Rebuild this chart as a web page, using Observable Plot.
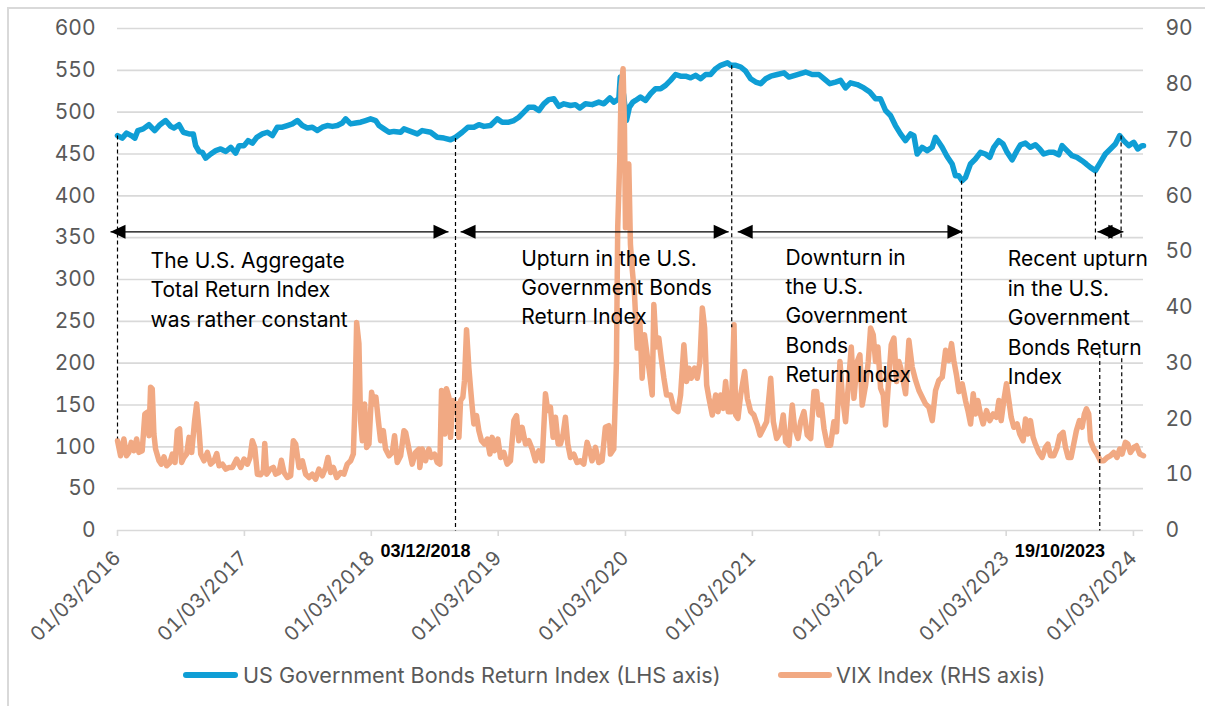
<!DOCTYPE html>
<html><head><meta charset="utf-8">
<script src="https://cdn.jsdelivr.net/npm/d3@7"></script>
<script src="https://cdn.jsdelivr.net/npm/@observablehq/plot@0.6"></script>
<style>
body{margin:0;background:#fff;}
#wrap{position:relative;width:1205px;height:706px;overflow:hidden;background:#fff;font-family:Inter,"Liberation Sans",Arial,sans-serif;}
#chart{position:absolute;left:0;top:0;}
#frame{position:absolute;left:7px;top:7px;width:1300px;height:800px;border-left:2px solid #d9d9d9;border-top:2px solid #d9d9d9;pointer-events:none;}
.leg{position:absolute;top:661px;height:28px;line-height:28px;font-size:21.6px;color:#595959;white-space:nowrap;}
.sw{position:absolute;height:6px;border-radius:3px;top:672px;}
</style></head>
<body>
<div id="wrap"><div id="chart"></div><div id="frame"></div></div>
<script>
// ---- data (dates as decimal years) ----
const tickYears = [2016, 2017, 2018, 2019, 2020, 2021, 2022, 2023, 2024];
const leftTicks = [0, 50, 100, 150, 200, 250, 300, 350, 400, 450, 500, 550, 600];
const rightTicks = [0, 10, 20, 30, 40, 50, 60, 70, 80, 90];
const seriesNames = ["US Government Bonds Return Index (LHS axis)", "VIX Index (RHS axis)"];
const seriesColors = ["#0F9ED5", "#F1A983"];

const bondSeries = [
[2016.164,472],[2016.201,469],[2016.235,475],[2016.272,472],[2016.301,469],[2016.324,478],[2016.366,480],[2016.411,485],[2016.456,478],[2016.498,485],[2016.542,490],[2016.582,483],[2016.608,481],[2016.647,485],[2016.681,476],[2016.726,474],[2016.760,474],[2016.778,460],[2016.805,453],[2016.831,452],[2016.857,445],[2016.897,450],[2016.936,454],[2016.975,456],[2017.015,453],[2017.054,458],[2017.093,451],[2017.120,460],[2017.159,460],[2017.191,466],[2017.225,463],[2017.259,470],[2017.303,474],[2017.343,476],[2017.382,472],[2017.421,482],[2017.461,482],[2017.500,484],[2017.540,486],[2017.579,490],[2017.618,484],[2017.658,481],[2017.697,482],[2017.736,478],[2017.776,482],[2017.815,484],[2017.855,483],[2017.894,484],[2017.933,487],[2017.960,492],[2017.999,486],[2018.038,487],[2018.078,488],[2018.117,490],[2018.156,492],[2018.196,490],[2018.222,484],[2018.261,480],[2018.301,476],[2018.340,477],[2018.393,476],
[2018.419,480],[2018.471,477],[2018.524,474],[2018.563,478],[2018.629,476],[2018.681,470],[2018.734,469],[2018.786,467],[2018.826,470],[2018.878,476],[2018.923,482],[2018.970,482],[2019.009,485],[2019.049,483],[2019.101,484],[2019.154,492],[2019.193,488],[2019.245,488],[2019.285,490],[2019.324,494],[2019.364,500],[2019.403,506],[2019.442,506],[2019.482,502],[2019.521,510],[2019.560,515],[2019.600,516],[2019.639,507],[2019.679,510],[2019.731,508],[2019.770,509],[2019.805,505],[2019.849,510],[2019.902,509],[2019.954,512],[2019.994,510],[2020.041,517],[2020.072,512],[2020.112,516],[2020.123,542],[2020.150,520],[2020.172,490],[2020.195,506],[2020.222,512],[2020.243,514],[2020.282,518],[2020.322,514],[2020.361,522],[2020.400,528],[2020.440,528],[2020.479,532],[2020.518,538],[2020.558,545],[2020.597,543],[2020.637,543],[2020.676,541],[2020.715,544],[2020.755,540],[2020.794,545],[2020.833,545],[2020.873,552],[2020.912,556],[2020.965,559],[2020.991,556],[2021.031,556],[2021.070,554],[2021.109,549],[2021.148,540],[2021.188,536],[2021.227,534],[2021.267,540],[2021.306,543],[2021.358,545],[2021.411,547],[2021.450,542],[2021.516,545],
[2021.581,548],[2021.633,545],[2021.686,545],[2021.725,540],[2021.772,534],[2021.817,536],[2021.856,538],[2021.896,529],[2021.935,535],[2021.988,533],[2022.040,529],[2022.087,524],[2022.132,516],[2022.171,516],[2022.211,502],[2022.250,496],[2022.289,484],[2022.329,474],[2022.368,466],[2022.408,474],[2022.434,472],[2022.460,450],[2022.499,458],[2022.539,454],[2022.578,458],[2022.604,470],[2022.631,464],[2022.657,458],[2022.696,447],[2022.736,438],[2022.762,424],[2022.788,424],[2022.814,418],[2022.841,422],[2022.880,438],[2022.919,444],[2022.959,452],[2022.998,450],[2023.032,446],[2023.064,458],[2023.103,466],[2023.137,462],[2023.169,452],[2023.208,443],[2023.247,454],[2023.274,461],[2023.313,463],[2023.352,458],[2023.392,461],[2023.426,456],[2023.457,450],[2023.497,452],[2023.536,452],[2023.576,449],[2023.602,460],[2023.641,454],[2023.681,448],[2023.720,446],[2023.759,442],[2023.793,438],[2023.825,434],[2023.864,430],[2023.904,440],[2023.943,450],[2023.983,456],[2024.022,462],[2024.056,472],[2024.087,466],[2024.127,460],[2024.166,464],[2024.198,456],[2024.232,460],[2024.243,460]
];

const vixSeries = [
[2016.164,16.1],[2016.188,13.4],[2016.214,16.4],[2016.235,13.4],[2016.253,14.0],[2016.272,15.8],[2016.293,14.3],[2016.314,16.4],[2016.332,14.0],[2016.358,14.3],[2016.379,20.9],[2016.398,21.2],[2016.411,17.0],[2016.424,25.7],[2016.437,25.4],[2016.450,17.3],[2016.463,14.6],[2016.490,12.5],[2016.508,11.9],[2016.529,13.2],[2016.550,11.6],[2016.576,12.2],[2016.595,13.7],[2016.616,12.2],[2016.634,17.9],[2016.652,18.2],[2016.668,12.2],[2016.686,13.1],[2016.707,13.7],[2016.726,16.7],[2016.747,14.0],[2016.770,19.7],[2016.786,22.7],[2016.805,17.9],[2016.818,13.7],[2016.844,12.5],[2016.870,14.0],[2016.896,11.9],[2016.923,12.5],[2016.944,13.8],[2016.962,11.6],[2016.988,11.9],
[2017.015,11.0],[2017.041,11.3],[2017.067,11.3],[2017.101,12.8],[2017.133,11.3],[2017.159,12.8],[2017.185,11.9],[2017.206,13.1],[2017.224,16.1],[2017.243,14.9],[2017.264,10.1],[2017.290,10.0],[2017.311,10.7],[2017.322,15.6],[2017.337,10.1],[2017.364,11.0],[2017.390,11.3],[2017.408,10.1],[2017.434,10.4],[2017.453,12.6],[2017.474,10.4],[2017.500,9.5],[2017.526,9.8],[2017.547,16.1],[2017.566,15.5],[2017.592,11.3],[2017.618,12.5],[2017.644,10.1],[2017.671,9.5],[2017.697,10.1],[2017.723,9.2],[2017.749,11.0],[2017.776,9.8],[2017.802,11.3],[2017.820,13.1],[2017.841,10.4],[2017.862,11.3],[2017.889,9.5],[2017.920,10.4],[2017.946,10.1],[2017.972,11.9],[2017.999,12.5],
[2018.020,13.7],[2018.033,22.7],[2018.046,37.3],[2018.064,33.5],[2018.077,19.7],[2018.091,16.1],[2018.109,22.7],[2018.125,14.9],[2018.143,15.5],[2018.164,24.8],[2018.182,22.7],[2018.198,23.9],[2018.217,19.7],[2018.235,16.1],[2018.256,17.9],[2018.274,14.6],[2018.301,13.4],[2018.327,14.0],[2018.345,17.0],[2018.366,12.2],[2018.393,13.4],[2018.419,17.9],[2018.432,17.6],[2018.461,14.3],[2018.484,11.9],[2018.510,14.0],[2018.537,14.6],
[2018.544,11.3],[2018.563,14.6],[2018.589,12.5],[2018.615,14.6],[2018.634,13.1],[2018.660,13.7],[2018.681,12.2],[2018.702,11.9],[2018.715,25.1],[2018.733,24.8],[2018.741,17.3],[2018.754,25.4],[2018.773,23.9],[2018.786,16.7],[2018.804,23.3],[2018.817,21.5],[2018.838,22.7],[2018.852,16.7],[2018.865,23.3],[2018.883,23.9],[2018.896,26.9],[2018.912,36.0],[2018.930,29.3],[2018.943,25.7],[2018.957,22.1],[2018.970,19.1],[2018.991,20.6],
[2019.009,17.9],[2019.030,16.1],[2019.054,15.5],[2019.075,16.4],[2019.096,13.7],[2019.114,16.7],[2019.132,14.3],[2019.159,16.4],[2019.180,13.1],[2019.206,14.0],[2019.232,11.9],[2019.258,12.5],[2019.285,19.7],[2019.306,20.6],[2019.324,16.1],[2019.350,18.5],[2019.377,15.5],[2019.403,16.1],[2019.429,14.6],[2019.455,12.5],[2019.481,14.3],[2019.508,12.5],[2019.534,24.5],[2019.552,21.5],[2019.573,22.1],[2019.594,16.7],[2019.613,20.3],[2019.634,15.5],[2019.652,15.5],[2019.673,17.3],[2019.691,20.3],[2019.710,15.5],[2019.731,13.1],[2019.757,13.7],[2019.783,12.2],[2019.810,12.5],[2019.836,11.9],[2019.862,15.8],[2019.883,14.3],[2019.901,12.5],[2019.928,14.9],[2019.954,12.2],[2019.980,12.5],
[2020.006,18.5],[2020.033,18.8],[2020.046,13.7],[2020.072,14.6],[2020.093,30.3],[2020.103,54.3],[2020.119,66.3],[2020.130,79.5],[2020.145,82.8],[2020.156,72.3],[2020.164,54.3],[2020.177,64.5],[2020.190,65.7],[2020.203,51.3],[2020.216,47.1],[2020.235,42.3],[2020.256,32.7],[2020.277,37.5],[2020.295,27.3],[2020.313,35.1],[2020.334,31.5],[2020.355,27.9],[2020.374,24.3],[2020.387,40.5],[2020.405,32.9],[2020.426,34.5],[2020.445,30.9],[2020.466,27.3],[2020.487,24.3],[2020.518,24.3],[2020.544,21.9],[2020.576,21.3],[2020.597,24.3],[2020.623,33.3],[2020.644,26.7],[2020.663,29.1],[2020.681,27.3],[2020.707,29.1],[2020.728,27.3],[2020.749,30.3],[2020.768,39.9],[2020.786,36.3],[2020.802,26.1],[2020.820,23.7],[2020.846,20.7],[2020.873,24.3],[2020.891,21.3],[2020.912,24.3],[2020.933,21.9],[2020.951,26.7],[2020.972,21.3],[2020.996,21.3],
[2021.017,36.9],[2021.030,20.7],[2021.048,20.1],[2021.069,24.3],[2021.101,28.5],[2021.122,23.7],[2021.148,21.3],[2021.174,20.7],[2021.201,18.9],[2021.222,17.1],[2021.248,18.3],[2021.274,19.5],[2021.306,27.3],[2021.327,19.5],[2021.353,16.5],[2021.384,17.7],[2021.405,20.7],[2021.424,15.9],[2021.450,15.3],[2021.476,22.5],[2021.495,18.3],[2021.521,16.5],[2021.542,19.5],[2021.568,21.3],[2021.594,17.1],[2021.621,16.5],[2021.647,24.9],[2021.668,24.9],[2021.686,20.7],[2021.705,22.5],[2021.726,18.3],[2021.752,15.3],[2021.778,15.3],[2021.804,19.5],[2021.825,17.7],[2021.852,30.3],[2021.870,24.3],[2021.896,19.5],[2021.922,27.3],[2021.941,32.9],[2021.962,23.7],[2021.988,30.3],
[2022.009,31.5],[2022.027,22.5],[2022.054,26.1],[2022.075,30.3],[2022.093,36.3],[2022.114,35.1],[2022.132,30.3],[2022.151,32.9],[2022.172,25.5],[2022.193,24.3],[2022.211,18.9],[2022.237,27.3],[2022.256,33.3],[2022.277,34.5],[2022.298,26.7],[2022.316,30.3],[2022.329,29.3],[2022.350,26.9],[2022.369,24.5],[2022.395,34.1],[2022.421,29.3],[2022.448,26.9],[2022.474,25.1],[2022.500,23.9],[2022.526,22.7],[2022.553,22.1],[2022.579,19.7],[2022.605,25.1],[2022.631,26.9],[2022.658,27.5],[2022.684,32.3],[2022.710,30.5],[2022.731,33.5],[2022.749,30.5],[2022.770,27.9],[2022.789,24.9],[2022.815,26.3],[2022.841,23.3],[2022.860,21.5],[2022.881,19.1],[2022.902,24.5],[2022.920,20.9],[2022.938,23.3],[2022.959,20.9],[2022.980,19.1],
[2023.007,21.5],[2023.033,19.7],[2023.059,20.9],[2023.085,20.3],[2023.104,23.3],[2023.122,19.7],[2023.143,23.3],[2023.164,26.3],[2023.183,23.3],[2023.201,20.3],[2023.222,18.5],[2023.248,19.1],[2023.269,17.3],[2023.295,16.1],[2023.314,20.0],[2023.332,17.3],[2023.353,19.7],[2023.374,16.7],[2023.392,15.5],[2023.419,14.0],[2023.445,13.1],[2023.471,14.9],[2023.490,15.5],[2023.511,13.4],[2023.537,13.4],[2023.563,14.9],[2023.584,17.0],[2023.610,17.6],[2023.629,14.9],[2023.650,13.1],[2023.673,13.1],[2023.694,15.5],[2023.715,17.9],[2023.739,19.7],[2023.760,18.5],[2023.778,20.9],[2023.794,21.8],[2023.812,20.9],[2023.826,16.1],[2023.852,14.6],[2023.878,13.7],[2023.904,12.5],[2023.930,12.5],[2023.957,13.1],[2023.983,13.4],
[2024.009,14.0],[2024.035,13.1],[2024.056,14.6],[2024.075,13.7],[2024.101,15.8],[2024.120,15.5],[2024.140,14.0],[2024.167,14.9],[2024.188,15.2],[2024.214,13.7],[2024.243,13.4]
];

// annotations
const dashDates = [2016.164, 2018.825, 2020.999, 2022.810, 2023.865, 2024.067, 2023.899, 2024.072];
const dashTop = [472, 469, 556, 418, 428, 472, 211, 206];
const dashBottom = [110, 0, 243, 180, 347, 347, 0, 110];
const arrowFrom = [2016.109, 2018.865, 2021.046, 2023.881];
const arrowTo = [2018.770, 2020.975, 2022.817, 2024.085];
const arrowLevel = 357;
const noteDates = [2016.424, 2019.343, 2021.422, 2023.174];
const noteLevels = [338.6, 341.5, 342.7, 340.7];
const noteTexts = [
  "The U.S. Aggregate\nTotal Return Index\nwas rather constant",
  "Upturn in the U.S.\nGovernment Bonds\nReturn Index",
  "Downturn in\nthe U.S.\nGovernment\nBonds\nReturn Index",
  "Recent upturn\nin the U.S.\nGovernment\nBonds Return\nIndex"
];
const dateLabelDates = [2018.589, 2023.585];
const dateLabelTexts = ["03/12/2018", "19/10/2023"];
const dateLabelLevel = -32;

// ---- build ----
const toDate = t => { const y = Math.floor(t); const a = Date.UTC(y, 0, 1), b = Date.UTC(y + 1, 0, 1); return new Date(a + (t - y) * (b - a)); };
const k = 600 / 90;
const bond = bondSeries.map(([t, v]) => ({date: toDate(t), v}));
const vix = vixSeries.map(([t, v]) => ({date: toDate(t), v: v * k}));
const dashes = dashDates.map((t, i) => ({date: toDate(t), y1: dashTop[i], y2: dashBottom[i]}));
const arrows = arrowFrom.map((t, i) => ({t1: toDate(t), t2: toDate(arrowTo[i]), y: arrowLevel}));
const notes = noteDates.map((t, i) => ({date: toDate(t), y: noteLevels[i], text: noteTexts[i]}));
const dateLabels = dateLabelDates.map((t, i) => ({date: toDate(t), y: dateLabelLevel, text: dateLabelTexts[i]}));
const tickDates = tickYears.map(y => new Date(Date.UTC(y, 2, 1)));
const fmt = d3.utcFormat("%d/%m/%Y");
const FONT = "Inter, 'Liberation Sans', Arial, sans-serif";

const plot = Plot.plot({
  width: 1205, height: 706,
  marginTop: 28, marginBottom: 176, marginLeft: 117, marginRight: 62,
  x: {type: "utc", domain: [new Date(Date.UTC(2016, 2, 1)), toDate(2024.243)]},
  y: {domain: [0, 600]},
  style: {fontFamily: FONT, background: "transparent", overflow: "visible"},
  marks: [
    Plot.gridY(leftTicks, {stroke: "#d9d9d9", strokeOpacity: 1, strokeWidth: 1.6}),
    Plot.axisY(leftTicks, {anchor: "left", tickSize: 0, tickPadding: 22, fontSize: 21, fill: "#595959", label: null}),
    Plot.axisY(rightTicks.map(v => v * k), {anchor: "right", tickSize: 0, tickPadding: 22, fontSize: 21, fill: "#595959", label: null, tickFormat: d => Math.round(d / k)}),
    Plot.axisX(tickDates, {tickFormat: fmt, tickRotate: -45, tickSize: 6, tickPadding: 18, stroke: "#d9d9d9", strokeWidth: 1.6, fontSize: 20, fill: "#595959", label: null}),
    Plot.lineY(bond, {x: "date", y: "v", stroke: seriesColors[0], strokeWidth: 5.5, strokeLinejoin: "round", strokeLinecap: "round"}),
    Plot.lineY(vix, {x: "date", y: "v", stroke: seriesColors[1], strokeWidth: 5.5, strokeLinejoin: "round", strokeLinecap: "round"}),
    Plot.link(dashes, {x1: "date", x2: "date", y1: "y1", y2: "y2", stroke: "black", strokeWidth: 1.2, strokeDasharray: "4,3"}),
    Plot.link(arrows, {x1: "t1", x2: "t2", y1: "y", y2: "y", stroke: "black", strokeWidth: 1.3, className: "ann-arrow"}),
    Plot.text(notes, {x: "date", y: "y", text: "text", textAnchor: "start", lineAnchor: "top", lineHeight: 1.4, fontSize: 21, fontFamily: FONT, fill: "black"}),
    Plot.text(dateLabels, {x: "date", y: "y", text: "text", textAnchor: "middle", lineAnchor: "bottom", fontSize: 18, fontWeight: "bold", fontFamily: "'Liberation Sans', Arial, sans-serif", fill: "black"})
  ]
});

// filled arrowheads
const svg = d3.select(plot);
const defs = svg.insert("defs", ":first-child");
defs.append("marker").attr("id", "ahEnd").attr("markerUnits", "userSpaceOnUse")
  .attr("markerWidth", 16).attr("markerHeight", 14).attr("refX", 15).attr("refY", 7)
  .attr("orient", "auto").attr("overflow", "visible")
  .append("path").attr("d", "M0,0L15,7L0,14Z").attr("fill", "black");
defs.append("marker").attr("id", "ahStart").attr("markerUnits", "userSpaceOnUse")
  .attr("markerWidth", 16).attr("markerHeight", 14).attr("refX", 0).attr("refY", 7)
  .attr("orient", "auto").attr("overflow", "visible")
  .append("path").attr("d", "M15,0L0,7L15,14Z").attr("fill", "black");
let arrowGroup = svg.select("g.ann-arrow");
if (arrowGroup.empty()) arrowGroup = d3.select(svg.selectAll('g[aria-label="link"]').nodes()[1]);
arrowGroup.selectAll("path,line").attr("marker-start", "url(#ahStart)").attr("marker-end", "url(#ahEnd)");

document.getElementById("chart").appendChild(plot);

// legend
const wrap = document.getElementById("wrap");
const legPos = [{sw: 183, w: 55, tx: 243}, {sw: 778, w: 54, tx: 836}];
seriesNames.forEach((name, i) => {
  const s = document.createElement("div");
  s.className = "sw"; s.style.left = legPos[i].sw + "px"; s.style.width = legPos[i].w + "px"; s.style.background = seriesColors[i];
  wrap.appendChild(s);
  const t = document.createElement("div");
  t.className = "leg"; t.style.left = legPos[i].tx + "px"; t.textContent = name;
  wrap.appendChild(t);
});
</script>
</body></html>
